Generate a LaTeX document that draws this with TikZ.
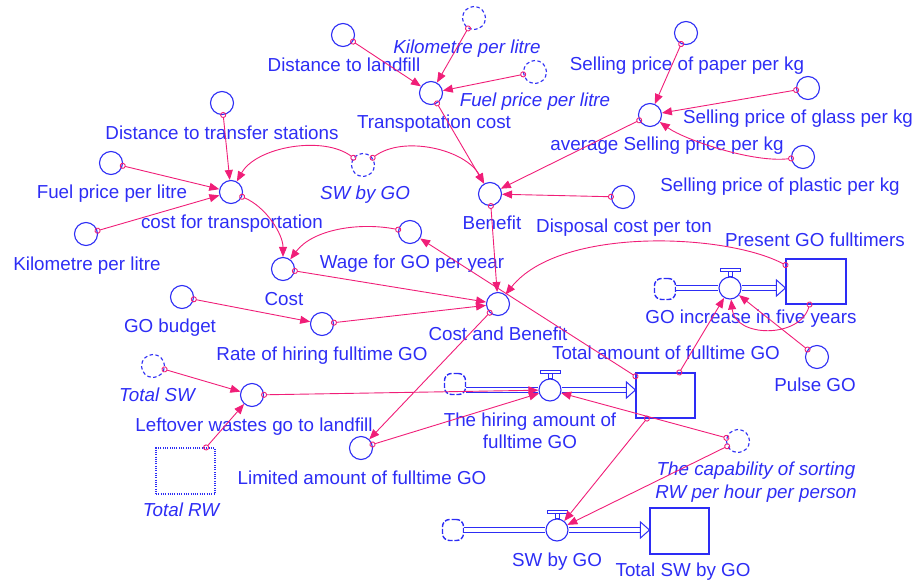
\documentclass[tikz,border=0pt]{standalone}
\usepackage{fontspec}
\setmainfont{Liberation Sans}
\usetikzlibrary{arrows.meta}
\definecolor{vblue}{RGB}{45,45,245}
\definecolor{vpink}{RGB}{240,30,120}
\begin{document}
\begin{tikzpicture}[x=1pt,y=-1pt,
  every node/.style={font=\fontsize{18.8}{22.5}\selectfont},
  lbl/.style={text=vblue, inner sep=0pt, text height=13.5pt, text depth=0pt},
  ilbl/.style={lbl, font=\fontsize{18.8}{22.5}\selectfont\itshape},
  lbltwo/.style={text=vblue, inner sep=0pt, align=center},
  ilbltwo/.style={lbltwo, font=\fontsize{18.8}{22.5}\selectfont\itshape},
  aux/.style={circle, draw=vblue, line width=1.1pt, minimum size=23pt, inner sep=0pt},
  shadow/.style={aux, dash pattern=on 3.5pt off 2.5pt},
  valve/.style={circle, draw=vblue, line width=1.1pt, minimum size=22pt, inner sep=0pt},
  stock/.style={rectangle, draw=vblue, line width=1.1pt, inner sep=0pt},
  cloud/.style={rectangle, rounded corners=7pt, draw=vblue, line width=1.4pt, dash pattern=on 5pt off 1.8pt, minimum size=21pt, inner sep=0pt},
  link/.style={draw=vpink, line width=0.9pt, arrows={Circle[open,length=6pt,width=6pt]-Triangle[length=10pt,width=8pt]}, shorten <=-3pt},
  pipe/.style={draw=vblue, line width=1pt, double=white, double distance=3.2pt},
  flowhead/.style={draw=vblue, line width=1pt, fill=white},
  valvetop/.style={draw=vblue, line width=0.9pt, fill=white}
]
\useasboundingbox (0,0) rectangle (916,581);

% ---- variables ----
\node[aux] (dl) at (343,35) {};
\node[shadow] (kml2) at (474,18) {};
\node[aux] (tc) at (431,93) {};
\node[shadow] (fpl2) at (535,72) {};
\node[aux] (spp) at (686,33) {};
\node[aux] (asp) at (650,115) {};
\node[aux] (spg) at (808,88) {};
\node[aux] (spl) at (803,157) {};
\node[aux] (ben) at (490,194) {};
\node[aux] (dcp) at (623,197) {};
\node[shadow] (swg) at (363,165) {};
\node[aux] (dts) at (222,103) {};
\node[aux] (fpl) at (111,163) {};
\node[aux] (cft) at (231,192) {};
\node[aux] (kml) at (86,234) {};
\node[aux] (cost) at (283,269) {};
\node[aux] (wage) at (410,232) {};
\node[aux] (gob) at (182,297) {};
\node[aux] (rate) at (322,324) {};
\node[aux] (cab) at (498,304) {};
\node[shadow] (tsw) at (153,366) {};
\node[aux] (lw) at (252,395) {};
\node[stock, dash pattern=on 1pt off 1.3pt, minimum width=59pt, minimum height=46pt] (trw) at (185.5,471) {};
\node[aux] (lim) at (361,448) {};
\node[valve] (hire) at (550,390) {};
\node[cloud] (hcl) at (455,384) {};
\node[stock, minimum width=59pt, minimum height=45pt] (tot) at (665.5,395.5) {};
\node[stock, minimum width=60pt, minimum height=45pt] (pgf) at (816,281.5) {};
\node[valve] (inc) at (730,288) {};
\node[cloud] (icl) at (665,289) {};
\node[aux] (pulse) at (817,357) {};
\node[valve] (swv) at (557,530) {};
\node[cloud] (scl) at (453,530) {};
\node[stock, minimum width=59pt, minimum height=46pt] (tswg) at (679.5,531) {};
\node[shadow] (cap) at (738,441) {};

% ---- labels ----
\node[lbl] (l-dl) at (344,65) {Distance to landfill};
\node[ilbl] (l-kml2) at (467,47) {Kilometre per litre};
\node[lbl] (l-tc) at (434,122) {Transpotation cost};
\node[ilbl] (l-fpl2) at (535,100) {Fuel price per litre};
\node[lbl] (l-spp) at (687,64) {Selling price of paper per kg};
\node[lbl] (l-asp) at (667,144) {average Selling price per kg};
\node[lbl] (l-spg) at (798,117) {Selling price of glass per kg};
\node[lbl] (l-spl) at (780,185) {Selling price of plastic per kg};
\node[lbl] (l-ben) at (492,223) {Benefit};
\node[lbl] (l-dcp) at (624,226) {Disposal cost per ton};
\node[ilbl] (l-swg) at (365,193) {SW by GO};
\node[lbl] (l-dts) at (222,133) {Distance to transfer stations};
\node[lbl] (l-fpl) at (112,192) {Fuel price per litre};
\node[lbl] (l-cft) at (232,222) {cost for transportation};
\node[lbl] (l-kml) at (87,264) {Kilometre per litre};
\node[lbl] (l-cost) at (284,299) {Cost};
\node[lbl] (l-wage) at (412,262) {Wage for GO per year};
\node[lbl] (l-gob) at (170,326) {GO budget};
\node[lbl] (l-rate) at (322,354) {Rate of hiring fulltime GO};
\node[lbl] (l-cab) at (498,334) {Cost and Benefit};
\node[ilbl] (l-tsw) at (157,395) {Total SW};
\node[lbl] (l-lw) at (254,425) {Leftover wastes go to landfill};
\node[ilbl] (l-trw) at (181,510) {Total RW};
\node[lbl] (l-lim) at (362,478) {Limited amount of fulltime GO};
\node[lbl] (l-tot) at (666,353) {Total amount of fulltime GO};
\node[lbltwo] (l-hire) at (530,431) {The hiring amount of\\fulltime GO};
\node[lbl] (l-pgf) at (815,240) {Present GO fulltimers};
\node[lbl] (l-inc) at (751,317) {GO increase in five years};
\node[lbl] (l-pulse) at (815,385) {Pulse GO};
\node[lbl] (l-swv) at (557,560) {SW by GO};
\node[lbl] (l-tswg) at (683,570) {Total SW by GO};
\node[ilbltwo] (l-cap) at (756,482) {The capability of sorting\\RW per hour per person};

% ---- flows ----
\foreach \v/\c/\s in {hire/hcl/tot, inc/icl/pgf, swv/scl/tswg}{
  \draw[pipe] (\c.east |- \v.west) -- (\v.west);
  \draw[pipe] (\v.east) -- ([xshift=-9pt]\s.west |- \v.east);
  \draw[flowhead] ([xshift=-9pt,yshift=8pt]\s.west |- \v.east) -- (\s.west |- \v.east) -- ([xshift=-9pt,yshift=-8pt]\s.west |- \v.east) -- cycle;
  \draw[valvetop] ([xshift=-2pt]\v.north) rectangle ([xshift=2pt,yshift=5pt]\v.north);
  \draw[valvetop] ([xshift=-10pt,yshift=5pt]\v.north) rectangle ([xshift=10pt,yshift=8pt]\v.north);
}

% ---- connectors ----
\draw[link] (dl) -- (tc);
\draw[link] (kml2) -- (tc);
\draw[link] (fpl2) -- (tc);
\draw[link] (tc) -- (ben);
\draw[link] (spp) -- (asp);
\draw[link] (spg) -- (asp);
\draw[link] (spl) .. controls +(-50,6) and +(35,25) .. (asp);
\draw[link] (asp) -- (ben);
\draw[link] (dcp) -- (ben);
\draw[link] (swg) .. controls +(-40,-30) and +(25,-45) .. (cft);
\draw[link] (swg) .. controls +(40,-30) and +(-25,-45) .. (ben);
\draw[link] (dts) -- (cft);
\draw[link] (fpl) -- (cft);
\draw[link] (kml) -- (cft);
\draw[link] (cft) .. controls +(35,15) and +(0,-35) .. (cost);
\draw[link] (wage) .. controls +(-50,-10) and +(30,-40) .. (cost);
\draw[link] (cost) -- (cab);
\draw[link] (gob) -- (rate);
\draw[link] (rate) -- (cab);
\draw[link] (ben) -- (cab);
\draw[link] (tot) -- (wage);
\draw[link] (pgf) .. controls +(-89,-48) and +(62,-78) .. (cab);
\draw[link] (cab) -- (lim);
\draw[link] (tsw) -- (lw);
\draw[link] (trw) -- (lw);
\draw[link] (lw) -- (hire);
\draw[link] (lim) -- (hire);
\draw[link] (cap) -- (hire);
\draw[link] (cap) -- (swv);
\draw[link] (tot) -- (swv);
\draw[link] (tot) -- (inc);
\draw[link] (pgf) .. controls +(-16,57) and +(5,50) .. (inc);
\draw[link] (pulse) -- (inc);
\end{tikzpicture}
\end{document}
